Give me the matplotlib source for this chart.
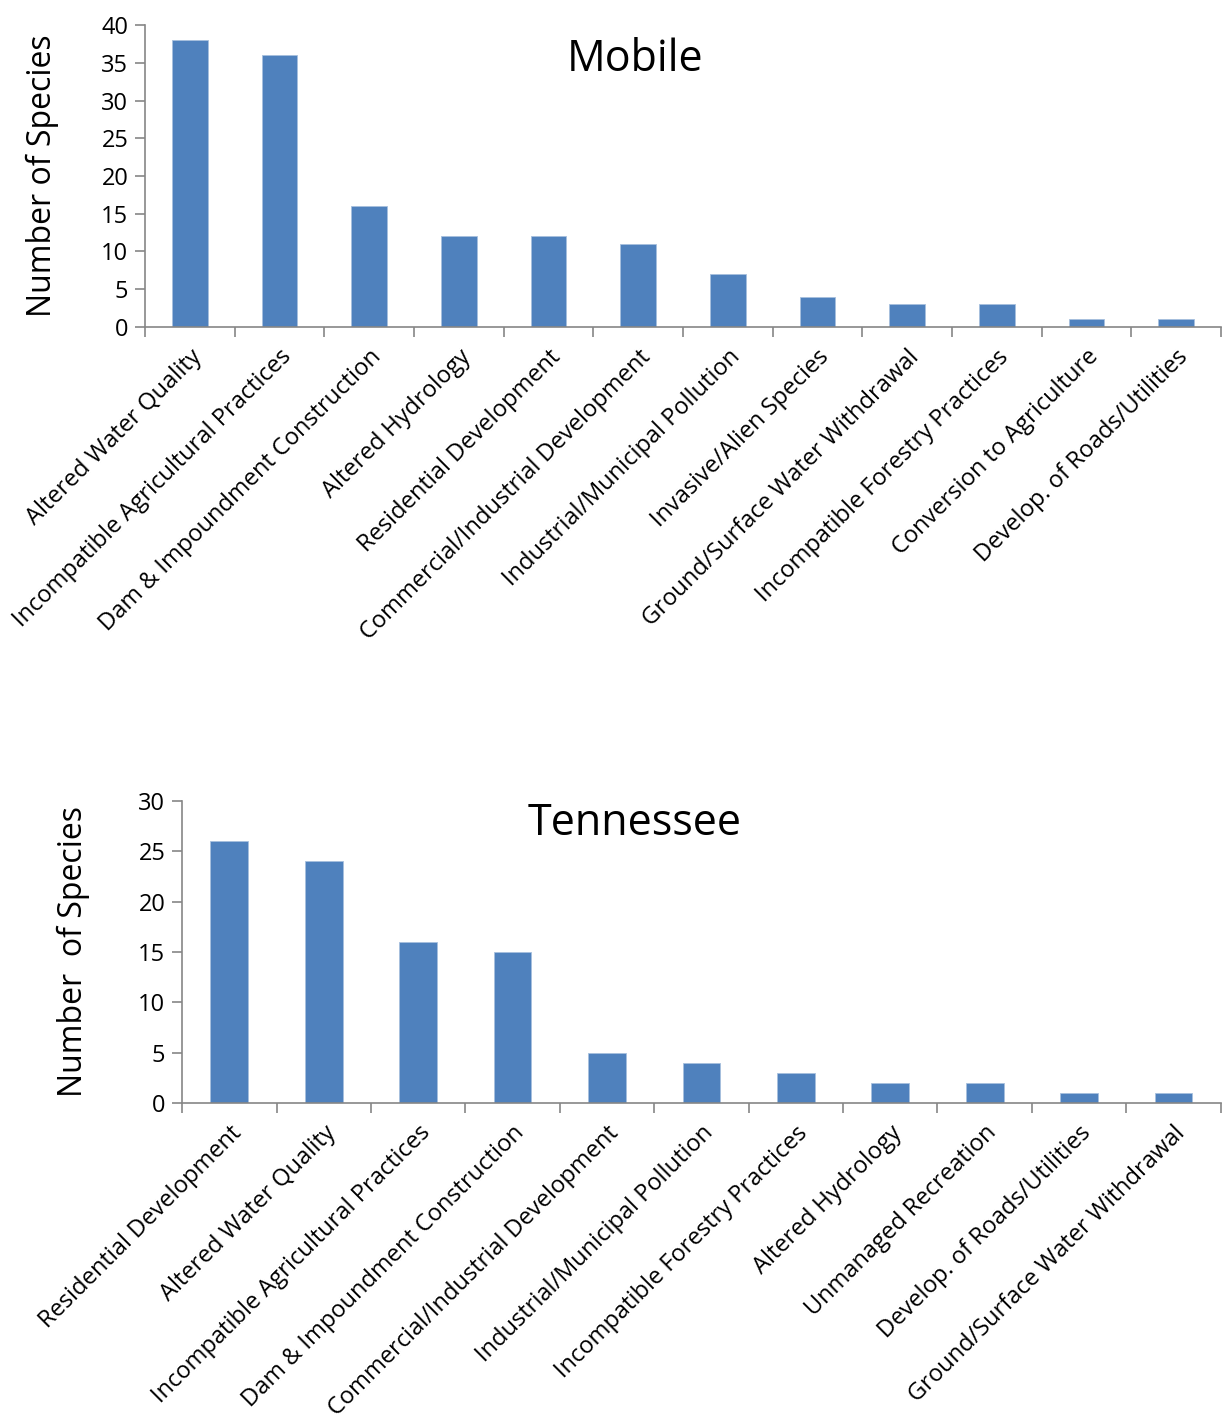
import matplotlib.pyplot as plt
import numpy as np

plt.rcParams['font.family'] = ['Open Sans', 'DejaVu Sans']

mobile_threats = ['Altered Water Quality', 'Incompatible Agricultural Practices',
                  'Dam & Impoundment Construction', 'Altered Hydrology',
                  'Residential Development', 'Commercial/Industrial Development',
                  'Industrial/Municipal Pollution', 'Invasive/Alien Species',
                  'Ground/Surface Water Withdrawal', 'Incompatible Forestry Practices',
                  'Conversion to Agriculture', 'Develop. of Roads/Utilities']
mobile_counts = [38, 36, 16, 12, 12, 11, 7, 4, 3, 3, 1, 1]

tenn_threats = ['Residential Development', 'Altered Water Quality',
                'Incompatible Agricultural Practices', 'Dam & Impoundment Construction',
                'Commercial/Industrial Development', 'Industrial/Municipal Pollution',
                'Incompatible Forestry Practices', 'Altered Hydrology',
                'Unmanaged Recreation', 'Develop. of Roads/Utilities',
                'Ground/Surface Water Withdrawal']
tenn_counts = [26, 24, 16, 15, 5, 4, 3, 2, 2, 1, 1]

bar_color = '#4F81BD'
axis_grey = '#868686'

fig = plt.figure(figsize=(12.22, 14.21), dpi=100)


def draw(ax, names, counts, ymax, title, tx, ty, ylabel, lab_x):
    x = np.arange(len(names))
    ax.bar(x, counts, width=0.4, color=bar_color, edgecolor='#A7C0DE', linewidth=0.6)
    ax.set_xlim(-0.5, len(names) - 0.5)
    ax.set_ylim(0, ymax)
    ax.set_yticks(np.arange(0, ymax + 1, 5))
    ax.set_xticks(x)
    ax.set_xticklabels(names, rotation=45, ha='right', rotation_mode='anchor', fontsize=17)
    ax.set_xticks(np.arange(-0.5, len(names)), minor=True)
    ax.tick_params(axis='x', which='major', length=0, pad=13)
    ax.tick_params(axis='x', which='minor', length=7, color=axis_grey, width=1.2)
    ax.tick_params(axis='y', length=7, color=axis_grey, width=1.2, labelsize=17, pad=5)
    for s in ['top', 'right']:
        ax.spines[s].set_visible(False)
    for s in ['left', 'bottom']:
        ax.spines[s].set_color(axis_grey)
        ax.spines[s].set_linewidth(1.2)
    ax.set_ylabel(ylabel, fontsize=23)
    ax.yaxis.set_label_coords(lab_x, 0.5)
    ax.text(tx, ty, title, transform=ax.transAxes, ha='center', va='center', fontsize=31)


ax1 = fig.add_axes([0.1187, 0.7699, 0.8805, 0.2125])
draw(ax1, mobile_threats, mobile_counts, 40, 'Mobile', 0.455, 0.884,
     'Number of Species', -0.08)

ax2 = fig.add_axes([0.149, 0.2238, 0.85, 0.2125])
draw(ax2, tenn_threats, tenn_counts, 30, 'Tennessee', 0.4356, 0.924,
     'Number  of Species', -0.089)

plt.savefig('out.png', dpi=100)
